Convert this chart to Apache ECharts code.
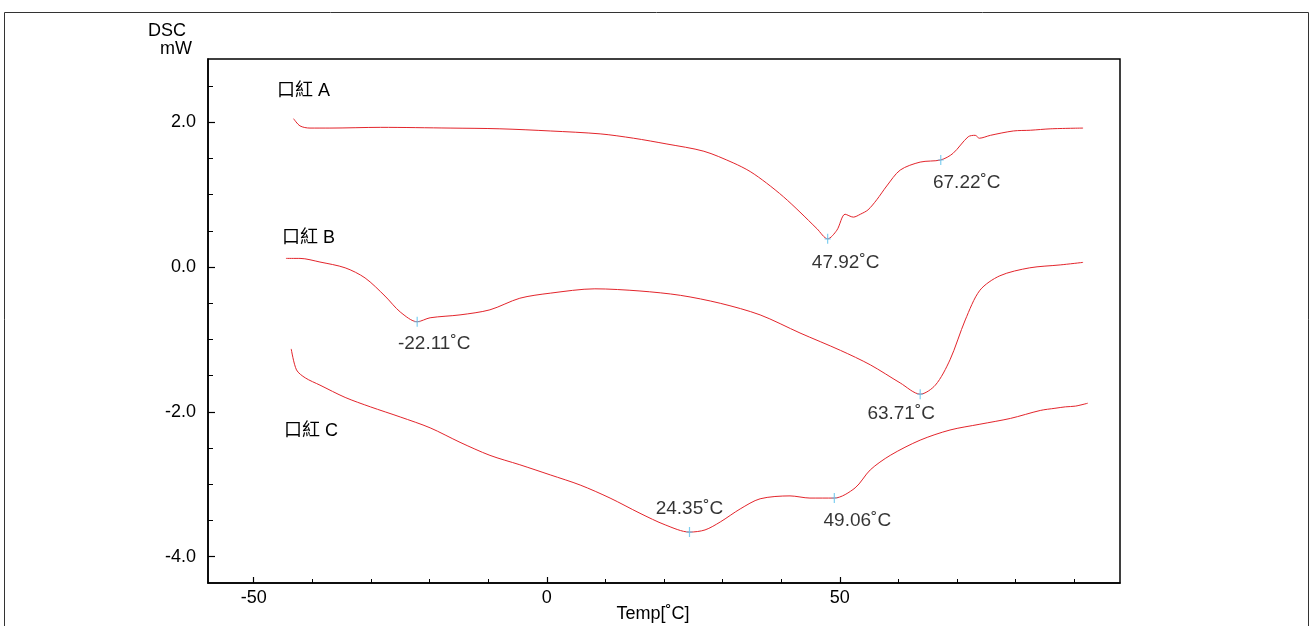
<!DOCTYPE html>
<html>
<head>
<meta charset="utf-8">
<script src="https://cdn.jsdelivr.net/npm/echarts@6/dist/echarts.min.js"></script>
<style>html,body{margin:0;padding:0;background:#fff}#c{width:1313px;height:626px}</style>
</head>
<body>
<div id="c"></div>
<script>
// Temperature [°C], DSC [mW]
var curveA = [[-43.2,2.05],[-42.1,1.95],[-40.4,1.92],[-37.0,1.92],[-28.4,1.93],[-16.5,1.92],[-8.0,1.91],[0.6,1.88],[9.1,1.84],[14.8,1.78],[20.5,1.70],[26.8,1.60],[31.8,1.44],[34.7,1.32],[37.5,1.16],[40.4,0.97],[43.2,0.76],[46.1,0.53],[47.92,0.39],[49.5,0.51],[50.9,0.73],[52.3,0.69],[53.5,0.73],[54.8,0.79],[56.3,0.93],[58.0,1.12],[60.3,1.34],[63.7,1.45],[67.22,1.48],[69.3,1.57],[71.9,1.80],[73.1,1.82],[73.8,1.78],[75.7,1.82],[79.6,1.88],[82.5,1.89],[86.0,1.91],[91.5,1.92]];
var curveB = [[-44.5,0.12],[-42.1,0.12],[-38.7,0.07],[-34.4,-0.01],[-31.0,-0.15],[-27.6,-0.40],[-25.0,-0.62],[-22.11,-0.755],[-19.9,-0.70],[-14.8,-0.66],[-9.7,-0.59],[-4.6,-0.43],[0.6,-0.36],[8.2,-0.30],[15.9,-0.33],[22.8,-0.39],[29.6,-0.50],[36.4,-0.66],[43.2,-0.91],[50.1,-1.15],[55.2,-1.35],[60.3,-1.60],[63.71,-1.755],[66.3,-1.63],[68.8,-1.28],[71.4,-0.73],[73.9,-0.32],[77.3,-0.12],[82.4,-0.01],[87.6,0.03],[91.5,0.065]];
var curveC = [[-43.6,-1.13],[-42.7,-1.42],[-41.2,-1.53],[-38.7,-1.63],[-34.4,-1.80],[-30.1,-1.93],[-25.0,-2.07],[-19.9,-2.22],[-14.8,-2.42],[-9.7,-2.60],[-4.6,-2.73],[0.6,-2.87],[5.7,-3.01],[10.8,-3.19],[15.9,-3.40],[20.2,-3.56],[24.35,-3.66],[27.0,-3.63],[29.6,-3.52],[33.0,-3.34],[36.4,-3.20],[41.5,-3.16],[44.9,-3.19],[49.06,-3.19],[52.6,-3.05],[55.2,-2.80],[58.6,-2.60],[63.7,-2.39],[68.8,-2.25],[73.9,-2.17],[79.1,-2.09],[84.2,-1.98],[86.7,-1.95],[88.5,-1.93],[90.2,-1.92],[92.3,-1.88]];
var peaks = [[47.92,0.39],[67.22,1.48],[-22.11,-0.755],[63.71,-1.755],[24.35,-3.66],[49.06,-3.19]];
var peakLabelOffsets = [[18,24],[26,23],[17,22],[-19,20],[0,-23],[23,23]];
var curveNames = ['口紅 A','口紅 B','口紅 C'];
var xMajorTicks = [-50,0,50];
var xMinorTicks = [-50,-40,-30,-20,-10,0,10,20,30,40,50,60,70,80,90];
var yMajorTicks = [-4,-2,0,2];
var yMinorTicks = [-4,-3.5,-3,-2.5,-2,-1.5,-1,-0.5,0,0.5,1,1.5,2,2.5];
var xRange = [-57.8, 97.8];
var yRange = [-4.363, 2.874];

var FONT = '"Liberation Sans", Arial, "Noto Sans CJK TC", sans-serif';
var chart = echarts.init(document.getElementById('c'));
var lineColor = '#e3242b';
function lineSeries(d){
  return {type:'line', data:d, xAxisIndex:0, yAxisIndex:0, showSymbol:false, smooth:0.3,
    lineStyle:{color:lineColor, width:1}, silent:true, animation:false, z:3};
}
chart.setOption({
  animation:false,
  backgroundColor:'#fff',
  grid:{left:208, top:59, right:193, bottom:43, show:true, borderColor:'#000', borderWidth:1.5, containLabel:false, outerBoundsMode:'none'},
  xAxis:[
    {type:'value', min:xRange[0], max:xRange[1], position:'bottom',
     axisLine:{show:true, onZero:false, lineStyle:{color:'#000', width:1.5}},
     axisTick:{show:true, inside:true, length:6, customValues:xMajorTicks, lineStyle:{color:'#000', width:1.2}},
     axisLabel:{show:true, customValues:xMajorTicks, color:'#000', fontFamily:FONT, fontSize:18, margin:6},
     splitLine:{show:false},
     name:'Temp[˚C]', nameLocation:'middle', nameGap:22, nameMoveOverlap:false,
     nameTextStyle:{color:'#000', fontFamily:FONT, fontSize:18, padding:[0,22,0,0]}},
    {type:'value', min:xRange[0], max:xRange[1], position:'bottom',
     axisLine:{show:false, onZero:false},
     axisTick:{show:true, inside:true, length:4, customValues:xMinorTicks, lineStyle:{color:'#000', width:1}},
     axisLabel:{show:false}, splitLine:{show:false}}
  ],
  yAxis:[
    {type:'value', min:yRange[0], max:yRange[1], position:'left',
     axisLine:{show:true, onZero:false, lineStyle:{color:'#000', width:1.5}},
     axisTick:{show:true, inside:true, length:7, customValues:yMajorTicks, lineStyle:{color:'#000', width:1.2}},
     axisLabel:{show:true, customValues:yMajorTicks, color:'#000', fontFamily:FONT, fontSize:18, margin:12,
       formatter:function(v){return v.toFixed(1);}},
     splitLine:{show:false}},
    {type:'value', min:yRange[0], max:yRange[1], position:'left',
     axisLine:{show:false, onZero:false},
     axisTick:{show:true, inside:true, length:5, customValues:yMinorTicks, lineStyle:{color:'#000', width:1}},
     axisLabel:{show:false}, splitLine:{show:false}}
  ],
  series:[
    lineSeries(curveA), lineSeries(curveB), lineSeries(curveC),
    {type:'scatter', xAxisIndex:0, yAxisIndex:0, silent:true, z:4,
     symbol:'path://M2,0h1v9h-1z M0,4h5v1h-5z', symbolSize:[6,10],
     itemStyle:{color:'#5fc3ee'},
     data: peaks.map(function(p,i){
       return {value:p, label:{show:true, position:'inside', offset:peakLabelOffsets[i],
         formatter: p[0].toFixed(2)+'˚C', color:'#000', fontFamily:FONT, fontSize:19}};
     })}
  ],
  graphic:[
    {type:'rect', shape:{x:4.5, y:12.5, width:1304, height:640}, style:{fill:'none', stroke:'#333', lineWidth:1}, silent:true, z:-1},
    {type:'text', left:148, top:22, style:{text:'DSC', fill:'#000', font:'18px '+FONT}},
    {type:'text', left:160, top:40, style:{text:'mW', fill:'#000', font:'18px '+FONT}},
    {type:'text', left:277, top:82, style:{text:curveNames[0], fill:'#000', font:'18px '+FONT}},
    {type:'text', left:282, top:229, style:{text:curveNames[1], fill:'#000', font:'18px '+FONT}},
    {type:'text', left:284, top:422, style:{text:curveNames[2], fill:'#000', font:'18px '+FONT}}
  ]
});
</script>
</body>
</html>
